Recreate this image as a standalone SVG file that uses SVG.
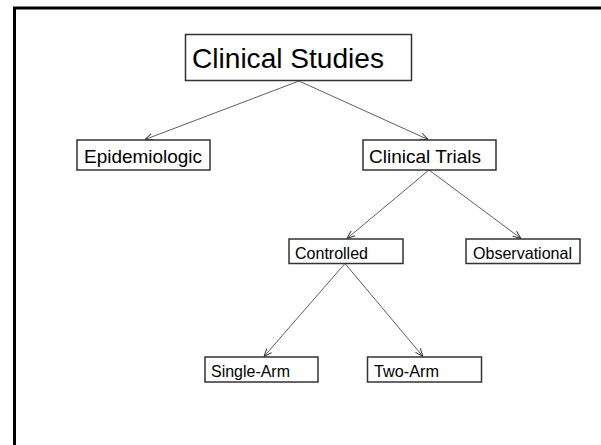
<svg xmlns="http://www.w3.org/2000/svg" width="601" height="445" viewBox="0 0 601 445">
<defs>
<style>
.box{fill:#fff;stroke:#333;stroke-width:1.5}
.t{font-family:"Liberation Sans",Arial,sans-serif;fill:#000}
.c{stroke:#333;stroke-width:0.8;fill:none;marker-end:url(#ah)}
</style>
<marker id="ah" viewBox="0 0 10 10" refX="10" refY="5" markerWidth="8" markerHeight="8" markerUnits="userSpaceOnUse" orient="auto">
<path d="M0,1 L10,5 L0,9" fill="none" stroke="#333" stroke-width="1.2"/>
</marker>
</defs>
<rect width="601" height="445" fill="#fff"/>
<path d="M14.5,445 V8 H601" fill="none" stroke="#000" stroke-width="3"/>
<g id="connectors">
<line class="c" x1="299" y1="81" x2="145" y2="139.5"/>
<line class="c" x1="299" y1="81" x2="428" y2="139.5"/>
<line class="c" x1="429" y1="170" x2="347" y2="238.5"/>
<line class="c" x1="429" y1="170" x2="521" y2="238.5"/>
<line class="c" x1="345" y1="263.5" x2="264" y2="356.5"/>
<line class="c" x1="345" y1="263.5" x2="423" y2="356.5"/>
</g>
<g id="clinical-studies">
<rect class="box" x="185.5" y="34.5" width="226" height="46"/>
<text class="t" x="192" y="68" font-size="27.5" textLength="192" lengthAdjust="spacingAndGlyphs">Clinical Studies</text>
</g>
<g id="epidemiologic">
<rect class="box" x="77" y="140" width="133" height="30"/>
<text class="t" x="84" y="162.5" font-size="18.5" textLength="118" lengthAdjust="spacingAndGlyphs">Epidemiologic</text>
</g>
<g id="clinical-trials">
<rect class="box" x="363" y="140" width="133" height="30"/>
<text class="t" x="369" y="162.5" font-size="18.5" textLength="112" lengthAdjust="spacingAndGlyphs">Clinical Trials</text>
</g>
<g id="controlled">
<rect class="box" x="289" y="239" width="114" height="24.5"/>
<text class="t" x="295" y="258.5" font-size="16.5" textLength="73" lengthAdjust="spacingAndGlyphs">Controlled</text>
</g>
<g id="observational">
<rect class="box" x="466" y="239" width="114" height="24.5"/>
<text class="t" x="473" y="258.5" font-size="16.5" textLength="99" lengthAdjust="spacingAndGlyphs">Observational</text>
</g>
<g id="single-arm">
<rect class="box" x="205" y="357" width="113" height="25"/>
<text class="t" x="211" y="377" font-size="16.5" textLength="79" lengthAdjust="spacingAndGlyphs">Single-Arm</text>
</g>
<g id="two-arm">
<rect class="box" x="367.5" y="357" width="114" height="25"/>
<text class="t" x="374" y="377" font-size="16.5" textLength="65" lengthAdjust="spacingAndGlyphs">Two-Arm</text>
</g>
</svg>
